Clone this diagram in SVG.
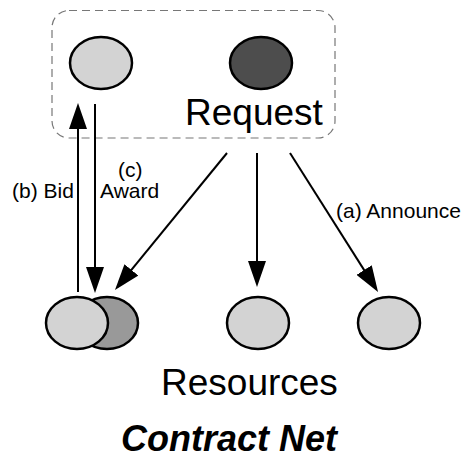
<svg xmlns="http://www.w3.org/2000/svg" width="466" height="458" viewBox="0 0 466 458">
<defs>
<style>
.node{stroke:#000;stroke-width:2.5}
.light{fill:#d3d3d3}
.dark{fill:#4d4d4d}
.mid{fill:#999}
.conn{stroke:#000;stroke-width:2;fill:none;marker-end:url(#ah)}
.lbl{font-family:"Liberation Sans",Arial,sans-serif;font-size:21px;fill:#000}
.big{font-family:"Liberation Sans",Arial,sans-serif;font-size:37px;fill:#000}
.title{font-family:"Liberation Sans",Arial,sans-serif;font-size:36px;font-weight:bold;font-style:italic;fill:#000}
</style>
<marker id="ah" markerUnits="userSpaceOnUse" markerWidth="26" markerHeight="18" refX="22" refY="9" orient="auto">
<path d="M0,0 L26,9 L0,18 Z" fill="#000"/>
</marker>
</defs>
<rect width="466" height="458" fill="#fff"/>
<g id="requester-group">
<rect x="52" y="10.5" width="283" height="127.5" rx="17" ry="17" fill="none" stroke="#777" stroke-width="1.2" stroke-dasharray="8,5"/>
<text class="big" x="185" y="125">Request</text>
</g>
<g id="manager">
<ellipse class="node light" cx="101" cy="63" rx="31" ry="26"/>
</g>
<g id="requester">
<ellipse class="node dark" cx="261" cy="63" rx="31" ry="26"/>
</g>
<g id="connectors">
<line class="conn" x1="78" y1="292" x2="78" y2="107"/>
<line class="conn" x1="95" y1="104" x2="95" y2="289"/>
<line class="conn" x1="227" y1="153" x2="117.5" y2="286.9"/>
<line class="conn" x1="257" y1="153" x2="257" y2="283"/>
<line class="conn" x1="290" y1="153" x2="375.9" y2="288.6"/>
<text class="lbl" x="12" y="198">(b) Bid</text>
<text class="lbl" x="118" y="177">(c)</text>
<text class="lbl" x="100" y="198">Award</text>
<text class="lbl" x="336" y="218">(a) Announce</text>
</g>
<g id="resource-winner">
<ellipse class="node mid" cx="107" cy="323" rx="31" ry="26"/>
<ellipse class="node light" cx="77" cy="323" rx="31" ry="26"/>
</g>
<g id="resource-2">
<ellipse class="node light" cx="258" cy="323" rx="31" ry="26"/>
</g>
<g id="resource-3">
<ellipse class="node light" cx="389" cy="323" rx="31" ry="26"/>
</g>
<text class="big" x="161" y="395">Resources</text>
<text class="title" x="121" y="451">Contract Net</text>
</svg>
